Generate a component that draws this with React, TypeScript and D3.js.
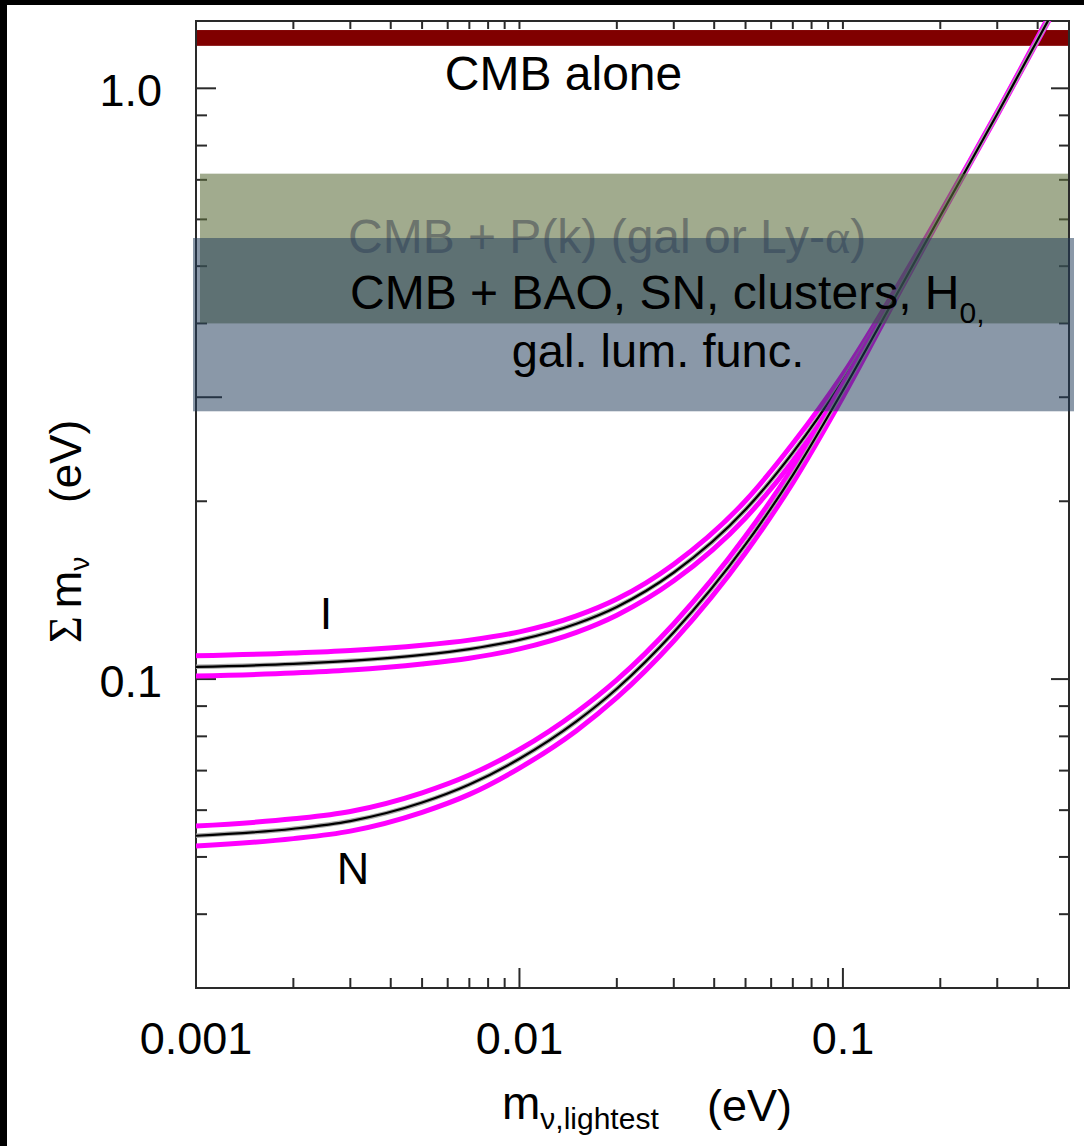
import React from 'react';
import * as d3 from 'd3';

// lightest neutrino mass grid (eV)
const massLightest = [0.001, 0.002, 0.003, 0.005, 0.007, 0.01, 0.015, 0.02, 0.03, 0.05, 0.07, 0.1, 0.15, 0.2, 0.3, 0.45];
// inverted hierarchy (I): sum of masses (eV)
const invertedCentral = [0.1049, 0.1061, 0.1074, 0.1099, 0.1124, 0.1165, 0.1241, 0.1325, 0.1515, 0.1936, 0.2417, 0.320, 0.465, 0.612, 0.908, 1.370];
const invertedUpper = [0.1095, 0.1107, 0.1118, 0.1141, 0.1164, 0.1202, 0.1279, 0.1366, 0.1565, 0.2004, 0.2504, 0.328, 0.4697, 0.6151, 0.9125, 1.3769];
const invertedLower = [0.1012, 0.1024, 0.1036, 0.1061, 0.1085, 0.1125, 0.1200, 0.1283, 0.1467, 0.1874, 0.2340, 0.312, 0.4604, 0.6089, 0.9035, 1.3632];
// normal hierarchy (N)
const normalCentral = [0.0543, 0.0558, 0.0575, 0.0618, 0.0663, 0.0733, 0.0848, 0.0963, 0.1200, 0.1690, 0.2215, 0.308, 0.458, 0.608, 0.905, 1.360];
const normalUpper = [0.0564, 0.0580, 0.0597, 0.0642, 0.0688, 0.0760, 0.0879, 0.0997, 0.1241, 0.1746, 0.2281, 0.3157, 0.4626, 0.6110, 0.9095, 1.3668];
const normalLower = [0.0522, 0.0537, 0.0553, 0.0595, 0.0638, 0.0707, 0.0818, 0.0930, 0.1160, 0.1636, 0.2149, 0.3003, 0.4534, 0.6050, 0.9005, 1.3532];

// bounds (eV) on the sum of masses
const cmbAloneBand = [1.18, 1.255];
const pkBand = [0.40, 0.717];
const baoBand = [0.284, 0.558];

const xMajorTicks = [0.001, 0.01, 0.1];
const xMajorLabels = ['0.001', '0.01', '0.1'];
const xMinorTicks = [0.002, 0.003, 0.004, 0.005, 0.006, 0.007, 0.008, 0.009, 0.02, 0.03, 0.04, 0.05, 0.06, 0.07, 0.08, 0.09, 0.2, 0.3, 0.4];
const yMajorTicks = [0.1, 1.0];
const yMajorLabels = ['0.1', '1.0'];
const yMinorTicks = [0.04, 0.05, 0.06, 0.07, 0.08, 0.09, 0.2, 0.3, 0.4, 0.5, 0.6, 0.7, 0.8, 0.9];
const yLongTicks = [0.3];

const W = 1084;
const H = 1146;
const L = 196, R = 1069, T = 21, B = 988;
const FONT = 'Arial, "Liberation Sans", Helvetica, sans-serif';
const SERIF = '"Liberation Serif", "Times New Roman", serif';

export default function App() {
  const x = d3.scaleLog().domain([0.001, 0.5]).range([L, R]);
  const y = d3.scaleLog().domain([0.03, 1.3]).range([B, T]);
  const line = d3
    .line<number>()
    .x((_, i) => x(massLightest[i]))
    .y((d) => y(d))
    .curve(d3.curveMonotoneX);

  const axisColor = '#2a2a2a';
  const magenta = '#ff00ff';

  const curves = [
    { up: invertedUpper, lo: invertedLower, c: invertedCentral },
    { up: normalUpper, lo: normalLower, c: normalCentral },
  ];

  return (
    <svg
      width={W}
      height={H}
      viewBox={`0 0 ${W} ${H}`}
      style={{ position: 'absolute', left: 0, top: 0, display: 'block', background: '#fff' }}
    >
      <defs>
        <clipPath id="plotClip">
          <rect x={L} y={T} width={R - L} height={B - T} />
        </clipPath>
      </defs>
      <rect x={0} y={0} width={W} height={H} fill="#fff" />
      {/* black frame strips */}
      <rect x={0} y={0} width={W} height={5} fill="#000" />
      <rect x={0} y={0} width={7} height={H} fill="#000" />

      {/* CMB alone band */}
      <rect
        x={L + 1}
        y={y(cmbAloneBand[1])}
        width={R - L - 1}
        height={y(cmbAloneBand[0]) - y(cmbAloneBand[1])}
        fill="#800000"
      />

      {/* axes frame */}
      <rect x={L} y={T} width={R - L} height={B - T} fill="none" stroke={axisColor} strokeWidth={2} />
      {xMajorTicks.map((t) => (
        <line key={'xb' + t} x1={x(t)} x2={x(t)} y1={B} y2={B - 20} stroke={axisColor} strokeWidth={2} />
      ))}
      {xMinorTicks.map((t) => (
        <line key={'xbm' + t} x1={x(t)} x2={x(t)} y1={B} y2={B - 10} stroke={axisColor} strokeWidth={2} />
      ))}
      {[...xMajorTicks, ...xMinorTicks].map((t) => (
        <line key={'xt' + t} x1={x(t)} x2={x(t)} y1={T} y2={T + 8} stroke={axisColor} strokeWidth={2} />
      ))}
      {yMajorTicks.map((t) => (
        <line key={'yl' + t} x1={L} x2={L + 20} y1={y(t)} y2={y(t)} stroke={axisColor} strokeWidth={2} />
      ))}
      {yMinorTicks.map((t) => (
        <line
          key={'ylm' + t}
          x1={L}
          x2={L + (yLongTicks.includes(t) ? 26 : 11)}
          y1={y(t)}
          y2={y(t)}
          stroke={axisColor}
          strokeWidth={2}
        />
      ))}
      {yMajorTicks.map((t) => (
        <line key={'yr' + t} x1={R} x2={R - 18} y1={y(t)} y2={y(t)} stroke={axisColor} strokeWidth={2} />
      ))}
      {yMinorTicks.map((t) => (
        <line key={'yrm' + t} x1={R} x2={R - 10} y1={y(t)} y2={y(t)} stroke={axisColor} strokeWidth={2} />
      ))}

      {/* curves */}
      <g clipPath="url(#plotClip)" fill="none" strokeLinecap="butt">
        {curves.map((cv, k) => (
          <g key={'c' + k}>
            <path d={line(cv.up) || ''} stroke={magenta} strokeWidth={5} />
            <path d={line(cv.lo) || ''} stroke={magenta} strokeWidth={5} />
            <path d={line(cv.c) || ''} stroke="#a8a8a8" strokeWidth={4.5} />
            <path d={line(cv.c) || ''} stroke="#000" strokeWidth={2.2} />
          </g>
        ))}
      </g>

      {/* P(k) band */}
      <rect
        x={L + 4}
        y={y(pkBand[1])}
        width={R - L - 5}
        height={y(pkBand[0]) - y(pkBand[1])}
        fill="rgb(93,110,60)"
        fillOpacity={0.58}
      />
      <text x={348} y={253} fontFamily={FONT} fontSize={48} fill="#6c746d">
        CMB + P(k) (gal or Ly-<tspan fontFamily={SERIF}>α</tspan>)
      </text>

      {/* BAO band */}
      <rect
        x={L - 3}
        y={y(baoBand[1])}
        width={R - L + 8}
        height={y(baoBand[0]) - y(baoBand[1])}
        fill="rgb(36,62,92)"
        fillOpacity={0.535}
      />
      <text x={350} y={309} fontFamily={FONT} fontSize={48} fill="#000">
        CMB + BAO, SN, clusters, H
        <tspan fontSize={30} dy={14}>0,</tspan>
      </text>
      <text x={658} y={367} fontFamily={FONT} fontSize={47} fill="#000" textAnchor="middle">
        gal. lum. func.
      </text>

      <text x={563.5} y={90} fontFamily={FONT} fontSize={48} fill="#000" textAnchor="middle">
        CMB alone
      </text>

      {/* curve labels */}
      <text x={326} y={629} fontFamily={FONT} fontSize={45} fill="#000" textAnchor="middle">
        I
      </text>
      <text x={353} y={884} fontFamily={FONT} fontSize={45} fill="#000" textAnchor="middle">
        N
      </text>

      {/* tick labels */}
      {xMajorTicks.map((t, i) => (
        <text key={'xl' + t} x={x(t)} y={1054} fontFamily={FONT} fontSize={45} textAnchor="middle" fill="#000">
          {xMajorLabels[i]}
        </text>
      ))}
      {yMajorTicks.map((t, i) => (
        <text key={'yl' + t} x={162} y={y(t) + 18} fontFamily={FONT} fontSize={45} textAnchor="end" fill="#000">
          {yMajorLabels[i]}
        </text>
      ))}

      {/* x axis title */}
      <text x={502} y={1119} fontFamily={FONT} fontSize={46} fill="#000">
        m<tspan fontSize={30} dy={10}>ν,lightest</tspan>
      </text>
      <text x={707} y={1121} fontFamily={FONT} fontSize={45} fill="#000">
        (eV)
      </text>

      {/* y axis title */}
      <g transform="translate(81, 643) rotate(-90)">
        <text x={0} y={0} fontFamily={FONT} fontSize={45} fill="#000">
          <tspan fontFamily={SERIF} fontSize={46}>Σ</tspan>
          <tspan dx={8}>m</tspan>
          <tspan fontSize={28} dy={8}>ν</tspan>
        </text>
        <text x={140} y={0} fontFamily={FONT} fontSize={44} fill="#000">
          (eV)
        </text>
      </g>
    </svg>
  );
}
